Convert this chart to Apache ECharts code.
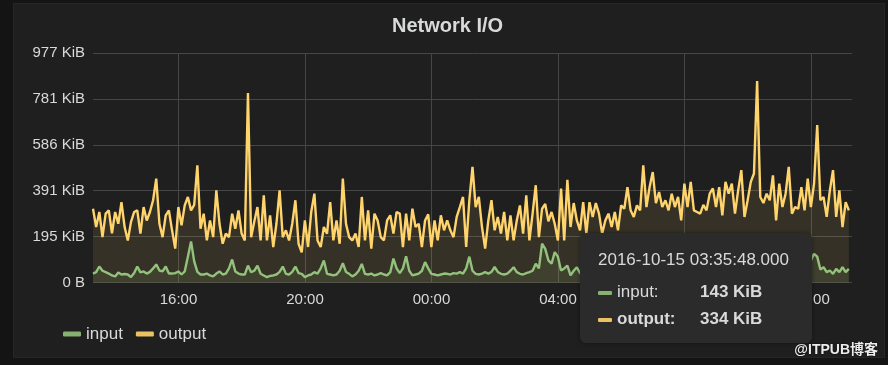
<!DOCTYPE html>
<html>
<head>
<meta charset="utf-8">
<script src="https://cdn.jsdelivr.net/npm/echarts@6/dist/echarts.min.js"></script>
<style>
  html, body { margin:0; padding:0; background:#141414; width:888px; height:365px; overflow:hidden; }
  #panel { position:absolute; left:13px; top:3px; width:870px; height:353px; background:#1f1f1f; border:1px solid #262626; }
  #chart { position:absolute; left:0; top:0; width:888px; height:365px; }
</style>
</head>
<body>
<div id="panel"></div>
<div id="chart"></div>
<script>
// ---- data (KiB), one sample every 6 minutes ----
const seriesNames = ['input', 'output'];
const startTime = [2016, 9, 14, 13, 17, 48]; // local time, month is 0-based
const stepMinutes = 6;

const inputKiB = [
  38, 44, 68, 50, 44, 38, 30, 26, 43, 34, 36, 34, 23, 40, 68, 43, 47, 38, 45, 60,
  77, 51, 47, 68, 38, 38, 40, 47, 34, 47, 110, 175, 90, 45, 34, 34, 38, 30, 26, 38,
  47, 34, 38, 60, 98, 47, 38, 34,
  34, 72, 44, 50, 72, 37, 30, 23, 28, 30, 34, 45, 68, 37, 34, 45, 68, 40, 37, 23,
  30, 34, 44, 38, 60, 94, 37, 34, 30, 34, 50, 82, 45, 37, 26, 34, 50, 79, 37, 34,
  38, 30, 34, 40, 34, 30, 44, 102, 60,
  40, 60, 112, 50, 30, 34, 38, 50, 87, 60, 37, 34, 30, 34, 38, 37, 34, 40, 38, 44,
  38, 60, 110, 50, 37, 34, 38, 44, 38, 45, 66, 45, 37, 34, 38, 50, 65, 44, 37, 34,
  40, 44, 50, 80, 60, 165, 143, 94,
  80, 129, 110, 51, 60, 72, 30, 50, 65, 40, 34, 38, 45, 60, 40, 34, 38, 30, 44, 70,
  45, 38, 34, 40, 38, 55, 80, 45, 37, 34, 40, 44, 38, 60, 90, 50, 38, 34, 40, 36,
  44, 65, 40, 34, 38, 45, 40, 34, 38,
  44, 60, 85, 48, 38, 34, 40, 36, 44, 38, 55, 70, 42, 36, 34, 40, 45, 38, 34, 60,
  75, 44, 38, 36, 40, 34, 38, 44, 38, 40, 36, 50, 70, 94, 122, 110, 55, 65, 44, 51,
  37, 58, 44, 65, 44, 58
];

const outputKiB = [
  314, 236, 300, 193, 293, 307, 209, 300, 250, 342, 236, 179, 257, 300, 307, 208, 321, 264, 300, 350,
  442, 250, 193, 286, 307, 222, 144, 321, 243, 328, 364, 307, 330, 499, 229, 293, 179, 264, 193, 392,
  250, 165, 208, 193, 293, 229, 307, 208,
  179, 806, 193, 260, 321, 179, 371, 179, 286, 151, 250, 392, 193, 222, 179, 250, 350, 165, 128, 264,
  151, 300, 378, 179, 151, 236, 208, 342, 179, 264, 165, 442, 250, 193, 179, 208, 151, 364, 179, 307,
  144, 293, 264, 193, 179, 264, 286, 208, 300,
  293, 151, 293, 179, 314, 236, 250, 151, 264, 290, 151, 264, 179, 286, 222, 264, 222, 193, 279, 321,
  364, 151, 350, 492, 321, 364, 236, 144, 264, 350, 222, 279, 208, 300, 179, 286, 179, 264, 328, 208,
  371, 179, 293, 414, 193, 314, 334, 260,
  300, 250, 179, 400, 179, 437, 236, 338, 264, 222, 342, 208, 342, 279, 338, 293, 208, 264, 293, 236,
  300, 222, 328, 314, 406, 307, 279, 328, 307, 499, 321, 406, 470, 338, 385, 321, 350, 307, 378, 321,
  364, 264, 421, 321, 428, 307, 300, 293, 330,
  307, 378, 400, 321, 406, 286, 428, 378, 421, 293, 392, 478, 279, 350, 428, 464, 857, 364, 338, 378,
  350, 456, 264, 421, 321, 378, 492, 293, 321, 314, 406, 307, 442, 321, 421, 670, 350, 364, 279, 392,
  478, 279, 392, 236, 342, 307
];

const yTickStepKiB = 195.3125;   // 200 000 bytes
const yMaxKiB = 976.5625;        // 1 000 000 bytes
const tooltipIndex = 143;        // 2016-10-15 03:35:48
const colors = ['#86b171', '#eac163'];

// ---- build ----
const t0 = new Date(startTime[0], startTime[1], startTime[2], startTime[3], startTime[4], startTime[5]).getTime();
const stepMs = stepMinutes * 60000;
const times = inputKiB.map((_, i) => t0 + i * stepMs);
const pad = n => (n < 10 ? '0' : '') + n;
const fmtTime = v => { const d = new Date(v); return pad(d.getHours()) + ':' + pad(d.getMinutes()); };
const fmtFull = v => {
  const d = new Date(v);
  return d.getFullYear() + '-' + pad(d.getMonth() + 1) + '-' + pad(d.getDate()) + ' ' +
    pad(d.getHours()) + ':' + pad(d.getMinutes()) + ':' + pad(d.getSeconds()) + '.000';
};
const fmtKiB = v => (v === 0 ? '0 B' : Math.round(v) + ' KiB');
const FONT = '"Liberation Sans", Arial, Helvetica, sans-serif';

const chart = echarts.init(document.getElementById('chart'), null, { renderer: 'canvas' });
chart.setOption({
  animation: false,
  backgroundColor: 'transparent',
  textStyle: { fontFamily: FONT },
  title: {
    text: 'Network I/O',
    left: 392, top: 16, padding: 0,
    textStyle: { color: '#d8d9da', fontSize: 20, fontWeight: 'bold', fontFamily: FONT }
  },
  legend: {
    data: seriesNames,
    left: 63, top: 324, padding: 0,
    itemWidth: 18, itemHeight: 5, itemGap: 13,
    icon: 'roundRect',
    textStyle: { color: '#d8d9da', fontSize: 17, fontFamily: FONT, lineHeight: 20 }
  },
  grid: { left: 93, right: 36, top: 53, bottom: 82.5, containLabel: false },
  xAxis: {
    type: 'time',
    min: t0, max: t0 + 24 * 3600 * 1000,
    splitNumber: 6,
    minInterval: 4 * 3600 * 1000, maxInterval: 4 * 3600 * 1000,
    axisLine: { show: false }, axisTick: { show: false },
    axisLabel: {
      color: '#d8d9da', fontSize: 15, fontFamily: FONT, margin: 10,
      showMinLabel: false, showMaxLabel: false,
      formatter: v => fmtTime(v)
    },
    splitLine: { show: true, showMinLine: false, showMaxLine: false, lineStyle: { color: '#464646', width: 1 } }
  },
  yAxis: {
    type: 'value', min: 0, max: yMaxKiB, interval: yTickStepKiB,
    axisLine: { show: false }, axisTick: { show: false },
    axisLabel: { color: '#d8d9da', fontSize: 15, fontFamily: FONT, margin: 8, formatter: fmtKiB },
    splitLine: { show: true, lineStyle: { color: '#464646', width: 1 } }
  },
  tooltip: {
    trigger: 'axis',
    triggerOn: 'none',
    alwaysShowContent: true,
    axisPointer: { type: 'none' },
    position: [580, 233],
    transitionDuration: 0,
    backgroundColor: '#2b2b2c',
    borderWidth: 0,
    padding: 0,
    extraCssText: 'opacity:1 !important;transition:none !important;border-radius:6px;width:232px;height:110px;box-shadow:0 0 4px rgba(0,0,0,0.4);box-sizing:border-box;',
    formatter: params => {
      const p = Array.isArray(params) ? params : [params];
      let html = '<div style="padding:17px 0 0 18px;font-family:' + FONT.replace(/"/g, "'") + ';color:#d8d9da;text-align:left;">';
      html += '<div style="font-size:17px;line-height:20px;height:20px;margin-bottom:8px;">' + fmtFull(p[0].value[0]) + '</div>';
      p.forEach(it => {
        const bold = it.seriesIndex === 1;
        html += '<div style="font-size:17px;line-height:27px;height:27px;white-space:nowrap;">' +
          '<span style="display:inline-block;width:14px;height:4px;border-radius:1px;background:' + it.color + ';vertical-align:middle;margin-right:5px;"></span>' +
          '<span style="display:inline-block;width:83px;' + (bold ? 'font-weight:bold;' : '') + '">' + it.seriesName + ':</span>' +
          '<span style="font-weight:bold;">' + fmtKiB(it.value[1]) + '</span></div>';
      });
      html += '</div>';
      return html;
    }
  },
  graphic: {
    elements: [{
      type: 'text', x: 878, y: 350,
      style: {
        text: '@ITPUB博客', align: 'right', verticalAlign: 'middle',
        fill: '#ececec', fontSize: 14, fontWeight: 'bold',
        fontFamily: '"Liberation Sans", "Noto Sans CJK SC", sans-serif',
        textShadowColor: 'rgba(0,0,0,0.8)', textShadowBlur: 2
      }
    }]
  },
  series: [
    {
      name: seriesNames[0], type: 'line', symbol: 'none', smooth: false,
      color: colors[0],
      lineStyle: { width: 2.4, color: colors[0] },
      areaStyle: { color: colors[0], opacity: 0.1 },
      data: times.map((t, i) => [t, inputKiB[i]])
    },
    {
      name: seriesNames[1], type: 'line', symbol: 'none', smooth: false,
      color: colors[1],
      lineStyle: { width: 2.4, color: colors[1] },
      areaStyle: { color: colors[1], opacity: 0.1 },
      data: times.map((t, i) => [t, outputKiB[i]])
    }
  ]
});
chart.dispatchAction({ type: 'showTip', seriesIndex: 0, dataIndex: tooltipIndex });
</script>
</body>
</html>
